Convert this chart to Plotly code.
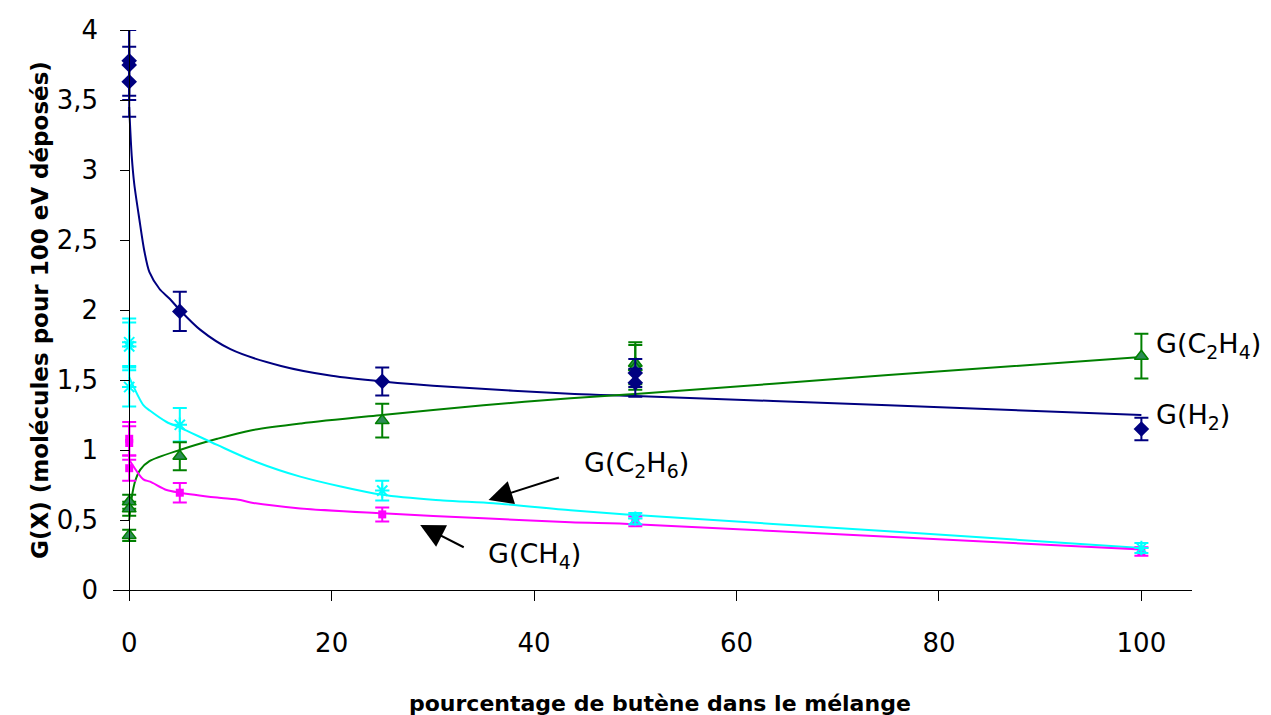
import plotly.graph_objects as go

# ---- data ----
pct_h2 = [0, 0, 0, 5, 25, 50, 50, 100]
g_h2 = [3.78, 3.75, 3.63, 1.99, 1.49, 1.55, 1.48, 1.15]
err_h2 = [0.25, 0.25, 0.25, 0.14, 0.10, 0.10, 0.10, 0.08]

pct_c2h4 = [0, 0, 0, 5, 25, 50, 50, 100]
g_c2h4 = [0.63, 0.58, 0.39, 0.955, 1.21, 1.62, 1.59, 1.67]
err_c2h4 = [0.05, 0.05, 0.04, 0.10, 0.12, 0.15, 0.16, 0.16]

pct_c2h6 = [0, 0, 0, 5, 25, 50, 100]
g_c2h6 = [1.77, 1.74, 1.45, 1.18, 0.71, 0.51, 0.30]
err_c2h6 = [0.17, 0.17, 0.14, 0.12, 0.07, 0.04, 0.035]

pct_ch4 = [0, 0, 0, 5, 25, 50, 100]
g_ch4 = [1.08, 1.05, 0.87, 0.695, 0.54, 0.49, 0.275]
err_ch4 = [0.12, 0.12, 0.09, 0.07, 0.05, 0.035, 0.03]

# trend curves
fit_x_h2 = [0, 0.25, 0.5, 1, 1.5, 2, 3, 4, 5, 7, 10, 15, 20, 25, 32, 44, 50, 75, 100]
fit_h2 = [3.45, 3.1, 2.9, 2.65, 2.42, 2.27, 2.15, 2.08, 2.0, 1.86, 1.72, 1.60, 1.53,
          1.49, 1.45, 1.40, 1.385, 1.32, 1.25]

fit_x_c2h4 = [0, 0.25, 0.6, 1.1, 2, 5, 8.7, 12, 17, 25, 35, 43.6, 50, 75, 100]
fit_c2h4 = [0.5, 0.66, 0.78, 0.86, 0.92, 1.0, 1.08, 1.14, 1.19, 1.25, 1.32, 1.37,
            1.40, 1.535, 1.665]

fit_x_c2h6 = [0, 1.4, 2.07, 3.7, 5, 8.7, 12, 16.9, 25, 31, 36, 43.6, 50, 75, 100]
fit_c2h6 = [1.52, 1.32, 1.28, 1.2, 1.16, 1.036, 0.93, 0.81, 0.68, 0.64, 0.62, 0.57,
            0.535, 0.42, 0.30]

fit_x_ch4 = [0, 1.4, 2.07, 3.7, 5, 8.7, 11, 12, 16.9, 25, 35, 43.6, 50, 75, 100]
fit_ch4 = [0.93, 0.79, 0.774, 0.714, 0.695, 0.66, 0.643, 0.625, 0.583, 0.548, 0.512,
           0.484, 0.47, 0.38, 0.29]

x_ticks = [0, 20, 40, 60, 80, 100]
y_ticks = [0, 0.5, 1, 1.5, 2, 2.5, 3, 3.5, 4]

NAVY = "#000080"
GREEN = "#008000"
CYAN = "#00FFFF"
MAGENTA = "#FF00FF"
FONT = "DejaVu Sans, sans-serif"

X_MIN = -1.6  # small room left of x=0 so the error-bar caps at 0 are not clipped

fig = go.Figure()

# curves
for fx, fy, col in [(fit_x_h2, fit_h2, NAVY), (fit_x_c2h4, fit_c2h4, GREEN),
                    (fit_x_c2h6, fit_c2h6, CYAN), (fit_x_ch4, fit_ch4, MAGENTA)]:
    fig.add_trace(go.Scatter(x=fx, y=fy, mode="lines", cliponaxis=False,
                             line=dict(color=col, width=2, shape="spline", smoothing=0.8),
                             hoverinfo="skip", showlegend=False))

# data points with error bars
def pts(x, y, e, col, symbol, size, fill, lw):
    fig.add_trace(go.Scatter(
        x=x, y=y, mode="markers", cliponaxis=False, showlegend=False,
        marker=dict(symbol=symbol, size=size, color=fill, line=dict(color=col, width=lw)),
        error_y=dict(type="data", array=e, visible=True, color=col, thickness=2, width=7)))

pts(pct_ch4, g_ch4, err_ch4, MAGENTA, "square", 8, MAGENTA, 0)
pts(pct_c2h6, g_c2h6, err_c2h6, CYAN, "asterisk-open", 12, CYAN, 2)
pts(pct_c2h4, g_c2h4, err_c2h4, GREEN, "triangle-up", 12, "#2E8B57", 1.5)
pts(pct_h2, g_h2, err_h2, NAVY, "diamond", 12, NAVY, 0)

lab_font = dict(family=FONT, size=27, color="black")
fig.add_annotation(x=101.2, y=1.75, text="G(C<sub>2</sub>H<sub>4</sub>)", showarrow=False,
                   xanchor="left", yanchor="middle", font=lab_font)
fig.add_annotation(x=101.2, y=1.24, text="G(H<sub>2</sub>)", showarrow=False,
                   xanchor="left", yanchor="middle", font=lab_font)
fig.add_annotation(x=50.1, y=0.9, text="G(C<sub>2</sub>H<sub>6</sub>)", showarrow=False,
                   xanchor="center", yanchor="middle", font=lab_font)
fig.add_annotation(x=40.0, y=0.25, text="G(CH<sub>4</sub>)", showarrow=False,
                   xanchor="center", yanchor="middle", font=lab_font)

# arrows
fig.add_annotation(x=35.5, y=0.643, ax=42.6, ay=0.807, axref="x", ayref="y", text="",
                   showarrow=True, arrowhead=2, arrowsize=2.4, arrowwidth=2, arrowcolor="black")
fig.add_annotation(x=28.75, y=0.464, ax=33.2, ay=0.30, axref="x", ayref="y", text="",
                   showarrow=True, arrowhead=2, arrowsize=2.4, arrowwidth=2, arrowcolor="black")

# axis titles (placed as paper-anchored text, like the reference)
fig.add_annotation(xref="paper", yref="paper", x=0.507, y=-0.202,
                   text="<b>pourcentage de butène dans le mélange</b>", showarrow=False,
                   xanchor="center", yanchor="middle", font=dict(family=FONT, size=22))
fig.add_annotation(xref="paper", yref="paper", x=-0.0677, y=0.5, textangle=-90,
                   text="<b>G(X) (molécules pour 100 eV déposés)</b>", showarrow=False,
                   xanchor="center", yanchor="middle", font=dict(family=FONT, size=23))

# the page body adds an 8 px offset; margins compensate so the plot area sits
# where the reference has it
fig.update_layout(
    width=1271, height=715,
    margin=dict(l=105, r=87, t=22, b=133),
    paper_bgcolor="white", plot_bgcolor="white",
    separators=", ",
    font=dict(family=FONT, size=26, color="black"),
    xaxis=dict(range=[X_MIN, 105], tickvals=x_ticks, ticks="outside", ticklen=10,
               tickcolor="black", showline=True, linecolor="black", linewidth=1,
               showgrid=False, zeroline=False, ticklabelstandoff=20, automargin=False),
    yaxis=dict(range=[0, 4], tickvals=y_ticks, ticks="outside", ticklen=9,
               anchor="free", position=(0 - X_MIN) / (105 - X_MIN),
               tickcolor="black", showline=True, linecolor="black", linewidth=1,
               showgrid=False, zeroline=False, ticklabelstandoff=17, automargin=False),
)

fig.write_html("out.html")
